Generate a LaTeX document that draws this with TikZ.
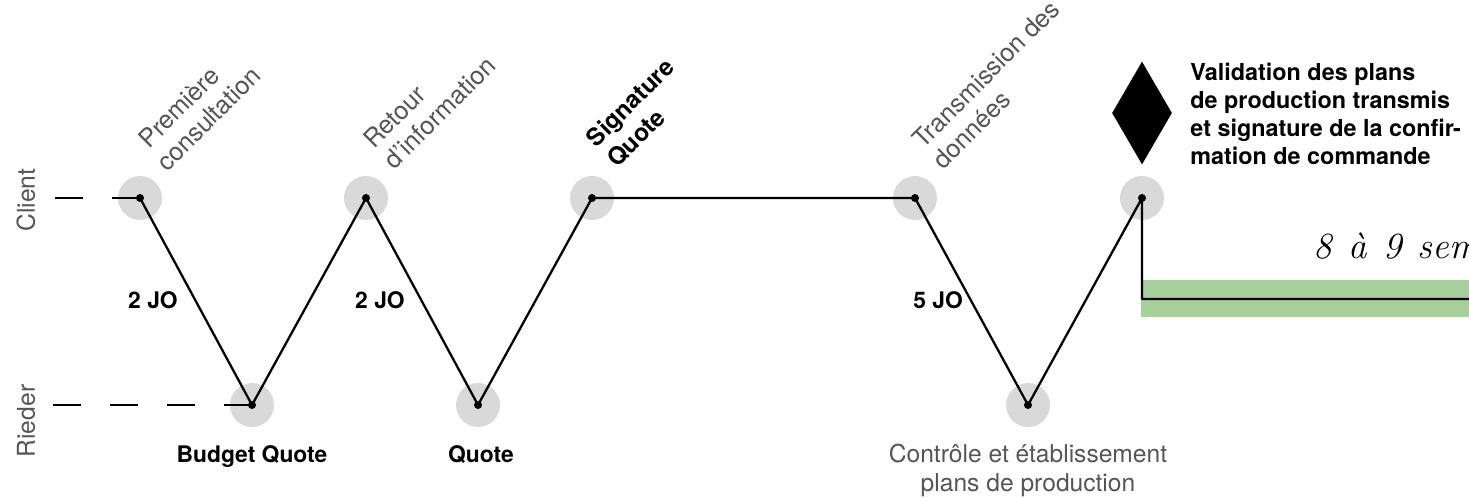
\documentclass[tikz,border=0pt]{standalone}
\usepackage{fontspec}
\setmainfont{TeX Gyre Heros}
\usetikzlibrary{shapes.geometric}
\definecolor{circgray}{HTML}{D9D9D9}
\definecolor{bandgreen}{HTML}{A6CF9A}
\definecolor{txtgray}{HTML}{555555}
\begin{document}
\begin{tikzpicture}[x=0.02cm,y=-0.02cm,
  halo/.style={circle,fill=circgray,minimum size=0.88cm,inner sep=0},
  dotmark/.style={circle,fill=black,minimum size=0.16cm,inner sep=0},
  link/.style={line width=1.3pt,line join=round},
  lane/.style={line width=1.3pt,dash pattern=on 0.56cm off 0.58cm},
  milestone/.style={rotate=45,anchor=south west,align=left,inner sep=0,font=\fontsize{14.4}{16.6}\selectfont,text=txtgray},
  boldmile/.style={milestone,text=black,font=\fontsize{13.8}{16.6}\selectfont\bfseries},
  durlabel/.style={inner sep=0,font=\fontsize{13}{15}\selectfont\bfseries},
  bottomlabel/.style={inner sep=0,anchor=base,font=\fontsize{13}{15}\selectfont\bfseries},
  graylabel/.style={inner sep=0,anchor=base,align=center,font=\fontsize{14}{16.5}\selectfont,text=txtgray},
  lanename/.style={rotate=90,inner sep=0,font=\fontsize{14}{16}\selectfont,text=txtgray}
]
\useasboundingbox (0,0) rectangle (1469,497);

% green band
\fill[bandgreen] (1141,280) rectangle (1469,317);

% halos
\node[halo] (c1) at (140,198) {};
\node[halo] (r1) at (252,405) {};
\node[halo] (c2) at (366,198) {};
\node[halo] (r2) at (478,405) {};
\node[halo] (c3) at (592,198) {};
\node[halo] (c4) at (915,198) {};
\node[halo] (r3) at (1028,405) {};
\node[halo] (c5) at (1142,198) {};

% lane names and dashed lead-ins
\node[lanename] (clientname) at (26,200) {Client};
\node[lanename] (riedername) at (26,421) {Rieder};
\coordinate (cl) at (54,198);
\coordinate (rl) at (53,405);
\draw[lane] (c1.center) -- (cl);
\draw[lane] (r1.center) -- (rl);

% main path
\coordinate (corner) at (1142,299);
\coordinate (bandend) at (1469,299);
\draw[link] (c1.center) -- (r1.center) -- (c2.center) -- (r2.center) -- (c3.center)
  -- (c4.center) -- (r3.center) -- (c5.center) -- (corner) -- (bandend);

% dots
\foreach \n in {c1,r1,c2,r2,c3,c4,r3,c5}
  \node[dotmark] at (\n.center) {};

% diamond
\node[diamond,fill=black,minimum width=1.2cm,minimum height=2.06cm,inner sep=0] (valid) at (1142,113) {};

% rotated milestone labels
\node[milestone] (l1) at (170,171) {Première\\\hspace*{-2pt}consultation};
\node[milestone] (l2) at (395,171) {Retour\\d’information};
\node[boldmile] (l3) at (618,170) {Signature\\Quote};
\node[milestone] (l4) at (944,171) {Transmission des\\données};

% durations
\node[durlabel] (d1) at (153,300) {2 JO};
\node[durlabel] (d2) at (380,300) {2 JO};
\node[durlabel] (d3) at (938,300) {5 JO};

% bottom labels
\node[bottomlabel] (b1) at (252,462) {Budget Quote};
\node[bottomlabel] (b2) at (481,462) {Quote};
\node[graylabel] (b3) at (1028,491) {Contrôle et établissement\\plans de production};

% right text
\node[anchor=north west,align=left,inner sep=0,font=\fontsize{13.3}{15.9}\selectfont\bfseries] (vtext) at (1190,63)
  {Validation des plans\\de production transmis\\et signature de la confir-\\mation de commande};

% handwritten duration, clipped at the border
\begin{scope}
\clip (0,0) rectangle (1469,497);
\node[anchor=base west,inner sep=0,font=\fontspec{Latin Modern Roman}\itshape\fontsize{21}{24}\selectfont] (weeks) at (1313,258) {8 \hspace{2pt}à \hspace{2pt}9 \hspace{2pt}semaines};
\end{scope}
\end{tikzpicture}
\end{document}
